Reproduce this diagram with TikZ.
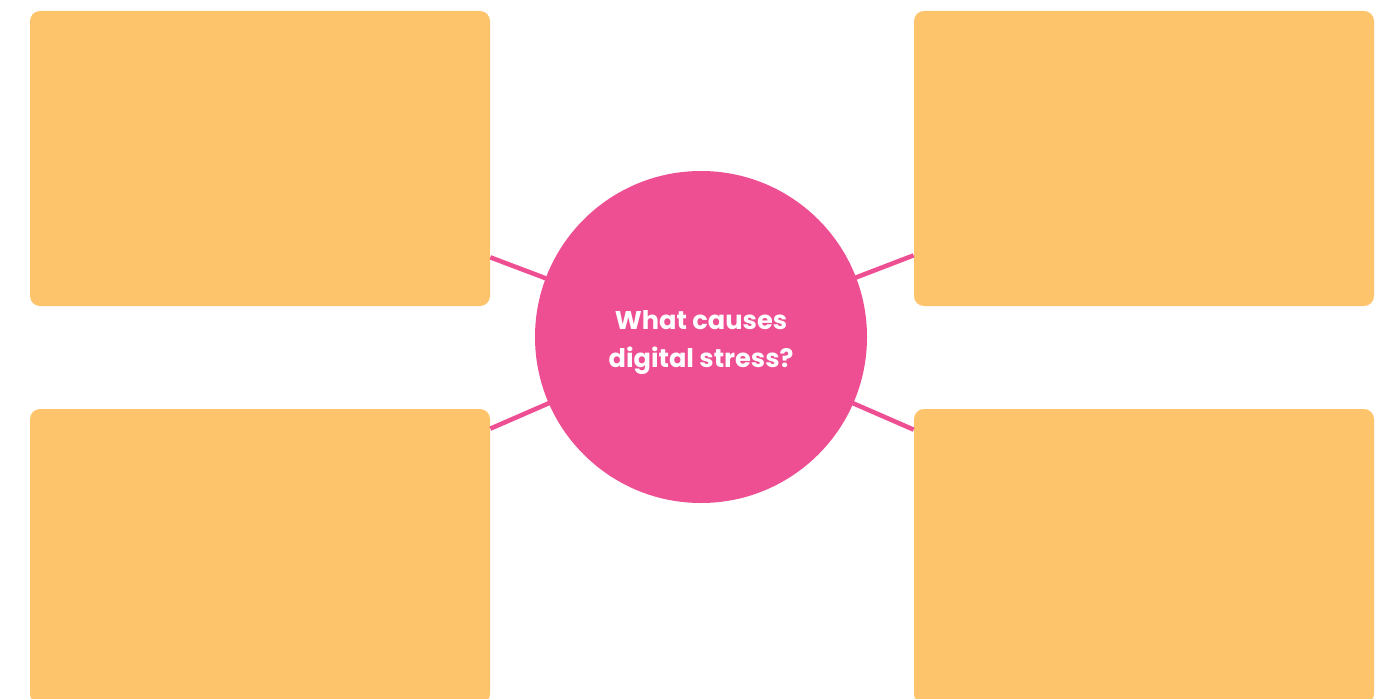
\documentclass[tikz,border=0pt]{standalone}
\usepackage{fontspec}
\setmainfont{Poppins}
\definecolor{mapOrange}{HTML}{FDC46B}
\definecolor{mapPink}{HTML}{EE4F93}
\usetikzlibrary{positioning}

\tikzset{
  notebox/.style={fill=mapOrange, rounded corners=0.2cm, minimum width=9.2cm, minimum height=5.9cm, inner sep=0pt},
  link/.style={draw=mapPink, line width=0.09cm}
}

\begin{document}
\begin{tikzpicture}
                \useasboundingbox (0,0) rectangle (27.84,13.96);
                \clip (0,0) rectangle (27.84,13.96);

                % Boxes
                \node[notebox] (tl) at (5.2,10.79) {};
                \node[notebox] (tr) at (22.88,10.79) {};
                \node[notebox] (bl) at (5.2,2.83) {};
                \node[notebox] (br) at (22.88,2.83) {};

                % Centre
                \coordinate (hub) at (14.02,7.22);

                % Links
                \draw[link] (hub) -- ([yshift=0.98cm]tl.south east);
                \draw[link] (hub) -- ([yshift=1.02cm]tr.south west);
                \draw[link] (hub) -- ([yshift=-0.4cm]bl.north east);
                \draw[link] (hub) -- ([yshift=-0.42cm]br.north west);

                % Question
                \node[circle, fill=mapPink, minimum size=6.64cm, inner sep=0pt] (question) at (hub) {};
                \node[text=white, align=center, font=\bfseries\fontsize{14.6}{21.6}\selectfont]
                      (questiontext) at ([yshift=-0.12cm]question.center) {What causes\\digital stress?};
            \end{tikzpicture}
\end{document}
